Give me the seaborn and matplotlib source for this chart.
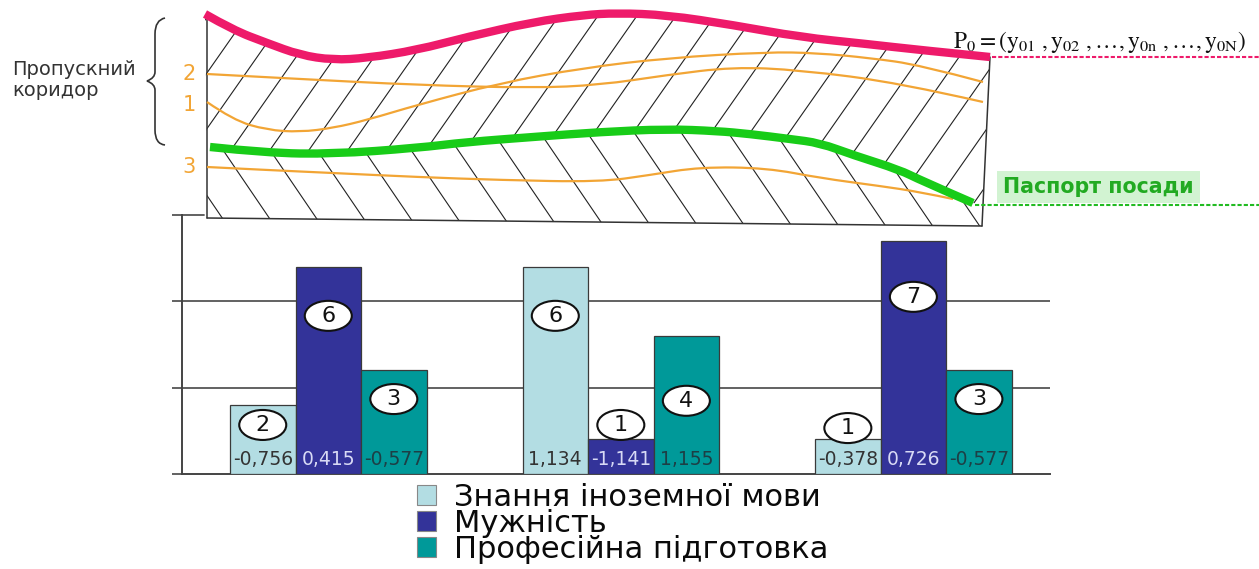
import numpy as np
import pandas as pd
import matplotlib
matplotlib.use("Agg")
import matplotlib.pyplot as plt
import seaborn as sns
from matplotlib.patches import Polygon, Ellipse, PathPatch
from matplotlib.path import Path

# ---- bar chart data ----
groups = ["I", "II", "III"]
criteria = ["Знання іноземної мови", "Мужність", "Професійна підготовка"]
bar_heights = {
    "Знання іноземної мови": [2.0, 6.0, 1.0],
    "Мужність": [6.0, 1.0, 6.75],
    "Професійна підготовка": [3.0, 4.0, 3.0],
}
ranks = {
    "Знання іноземної мови": [2, 6, 1],
    "Мужність": [6, 1, 7],
    "Професійна підготовка": [3, 4, 3],
}
scores = {
    "Знання іноземної мови": [-0.756, 1.134, -0.378],
    "Мужність": [0.415, -1.141, 0.726],
    "Професійна підготовка": [-0.577, 1.155, -0.577],
}
rank_label_y = {
    "Знання іноземної мови": [1.42, 4.58, 1.33],
    "Мужність": [4.58, 1.42, 5.13],
    "Професійна підготовка": [2.17, 2.12, 2.17],
}
palette = ["#b3dde3", "#333399", "#009999"]
score_colors = ["#333333", "#d8daf5", "#1d3f45"]

# ---- top diagram curves (picture coordinates, px) ----
upper_x = [205, 233, 267, 300, 333, 367, 417, 467, 533, 583, 617, 667, 733, 800, 867, 920, 990]
upper_y = [14, 30, 43, 55, 60, 58, 50, 37, 22, 15, 13, 15, 25, 37, 44, 50, 57]
passport_x = [210, 267, 333, 417, 467, 533, 600, 667, 717, 750, 790, 820, 853, 900, 920, 973]
passport_y = [147, 153, 154, 148, 142, 137, 132, 129, 131, 134, 139, 143, 155, 170, 180, 203]
line1_x = [207, 233, 267, 300, 333, 367, 417, 500, 583, 667, 767, 817, 870, 920, 983]
line1_y = [102, 120, 130, 132, 128, 120, 105, 83, 68, 58, 52, 53, 58, 65, 82]
line2_x = [207, 300, 417, 533, 600, 667, 733, 800, 900, 983]
line2_y = [74, 79, 85, 88, 85, 75, 67, 70, 83, 102]
line3_x = [207, 267, 333, 417, 500, 600, 650, 700, 767, 820, 880, 920, 953]
line3_y = [167, 170, 173, 177, 180, 182, 175, 167, 168, 178, 186, 192, 199]

sns.set_theme(style="white")
plt.rcParams["font.family"] = ["DejaVu Sans"]
plt.rcParams["mathtext.fontset"] = "stix"

W, H = 1259, 569
fig = plt.figure(figsize=(W / 100, H / 100), dpi=100)

# overlay in pixel coordinates for the corridor diagram
dax = fig.add_axes([0, 0, 1, 1])
dax.set_xlim(0, W)
dax.set_ylim(H, 0)
dax.axis("off")


def smooth_path(xs, ys):
    # quadratic bezier through the read points' midpoints (rendering only)
    pts = list(zip(xs, ys))
    verts = [pts[0]]
    codes = [Path.MOVETO]
    for k in range(1, len(pts) - 1):
        mid = ((pts[k][0] + pts[k + 1][0]) / 2, (pts[k][1] + pts[k + 1][1]) / 2)
        verts += [pts[k], mid if k < len(pts) - 2 else pts[-1]]
        codes += [Path.CURVE3, Path.CURVE3]
    return Path(verts, codes)


def draw_curve(xs, ys, color, lw, z):
    dax.add_patch(PathPatch(smooth_path(xs, ys), fill=False, edgecolor=color, lw=lw,
                            capstyle="butt", joinstyle="round", zorder=z))


# hatched regions
up_poly = list(zip(upper_x, upper_y)) + [(983, 205)] + list(zip(passport_x[::-1], passport_y[::-1])) + [(207, 147)]
low_poly = list(zip(passport_x, passport_y)) + [(982, 226), (207, 218), (207, 147)]
up_patch = Polygon(up_poly, closed=True, fill=False, edgecolor="none")
low_patch = Polygon(low_poly, closed=True, fill=False, edgecolor="none")
dax.add_patch(up_patch)
dax.add_patch(low_patch)
for c in np.arange(180, 1300, 39):
    ln, = dax.plot([c, c - 0.7 * 260], [0, 260], color="#222222", lw=0.8)
    ln.set_clip_path(up_patch)
for c in np.arange(-20, 1100, 47):
    ln, = dax.plot([c, c + 0.68 * 260], [0, 260], color="#222222", lw=0.8)
    ln.set_clip_path(low_patch)

# frame of the diagram
dax.plot([207, 207], [14, 218], color="#333333", lw=1.1)
dax.plot([207, 982], [218, 226], color="#333333", lw=1.1)
dax.plot([990, 982], [57, 226], color="#333333", lw=1.1)
dax.plot([182, 204], [215, 215], color="#555555", lw=1.3)

orange = "#f2a535"
for xs, ys in [(line1_x, line1_y), (line2_x, line2_y), (line3_x, line3_y)]:
    draw_curve(xs, ys, orange, 1.6, 3)
draw_curve(upper_x, upper_y, "#ee1a6a", 6, 4)
draw_curve(passport_x, passport_y, "#18cc18", 6, 4)
dax.plot([992, W], [57, 57], color="#ee1a6a", lw=1.5, ls=(0, (2, 1)))
dax.plot([975, W], [205, 205], color="#22bb22", lw=1.5, ls=(0, (2, 1)))

# brace and labels
brace = Path([(165, 18), (155, 20), (155, 34), (155, 72), (155, 78), (147, 81),
              (155, 84), (155, 90), (155, 130), (155, 144), (165, 145)],
             [Path.MOVETO, Path.CURVE3, Path.CURVE3, Path.LINETO, Path.CURVE3, Path.CURVE3,
              Path.CURVE3, Path.CURVE3, Path.LINETO, Path.CURVE3, Path.CURVE3])
dax.add_patch(PathPatch(brace, fill=False, edgecolor="#333333", lw=1.2))
dax.text(12, 75, "Пропускний", fontsize=14, color="#333333", va="baseline", ha="left")
dax.text(12, 96, "коридор", fontsize=14, color="#333333", va="baseline", ha="left")
for s, yb in [("2", 80), ("1", 111), ("3", 173)]:
    dax.text(189, yb, s, fontsize=15, color=orange, va="baseline", ha="center")
dax.text(953, 42, r"$\mathrm{P_0 = (y_{01}\ ,y_{02}\ ,\ldots,y_{0n}\ ,\ldots,y_{0N})}$",
         fontsize=16.8, color="#111111", va="center", ha="left")
dax.text(1003, 187, "Паспорт посади", fontsize=14.8, fontweight="bold", color="#22aa22",
         va="center", ha="left",
         bbox=dict(boxstyle="square,pad=0.3", fc="#d2f3d2", ec="none"))

# ---- bar chart ----
rows = []
for crit in criteria:
    for g, h in zip(groups, bar_heights[crit]):
        rows.append({"group": g, "criterion": crit, "height": h})
df = pd.DataFrame(rows)

ax = fig.add_axes([182 / W, (H - 474) / H, (1050 - 182) / W, (474 - 215) / H])
ax.set_facecolor("none")
sns.barplot(data=df, x="group", y="height", hue="criterion", hue_order=criteria,
            palette=palette, saturation=1, width=0.672, gap=0,
            edgecolor="#3a3a3a", linewidth=0.9, ax=ax, legend=True, zorder=3)
ax.set_xlim(-0.5, 2.467)
ax.set_ylim(0, 7.5)
ax.set_yticks([0, 2.5, 5, 7.5])
ax.set_yticklabels([])
ax.set_xticks([])
ax.set_xlabel("")
ax.set_ylabel("")
for y in [2.5, 5]:
    ax.axhline(y, color="#555555", lw=1.3, zorder=1)
ax.tick_params(axis="y", left=True, length=7.5, width=1.3, color="#555555", direction="out", pad=0)
for side in ["top", "right"]:
    ax.spines[side].set_visible(False)
for side in ["left", "bottom"]:
    ax.spines[side].set_color("#444444")
    ax.spines[side].set_linewidth(1.4)

for j, (crit, cont) in enumerate(zip(criteria, ax.containers)):
    for i, bar in enumerate(cont):
        xc = bar.get_x() + bar.get_width() / 2
        ax.text(xc, 0.41, f"{scores[crit][i]:.3f}".replace(".", ","), fontsize=13.5,
                color=score_colors[j], ha="center", va="center", zorder=6)
        yc = rank_label_y[crit][i]
        ax.add_patch(Ellipse((xc, yc), width=47 / 292.5, height=30 / 34.53,
                             fc="white", ec="#111111", lw=1.5, zorder=7, clip_on=False))
        ax.text(xc, yc, str(ranks[crit][i]), fontsize=16, color="#111111",
                ha="center", va="center", zorder=8)

handles, labels = ax.get_legend_handles_labels()
ax.get_legend().remove()
for hd in handles:
    hd.set_edgecolor("#888888")
    hd.set_linewidth(0.8)
fig.legend(handles, labels, loc="upper left", bbox_to_anchor=(417 / W, 1 - 483 / H),
           frameon=False, fontsize=22, handlelength=0.63, handleheight=0.63,
           handletextpad=0.57, labelspacing=-0.1, borderpad=0, borderaxespad=0,
           labelcolor="#0a0a0a")

fig.savefig("out.png", dpi=100)
